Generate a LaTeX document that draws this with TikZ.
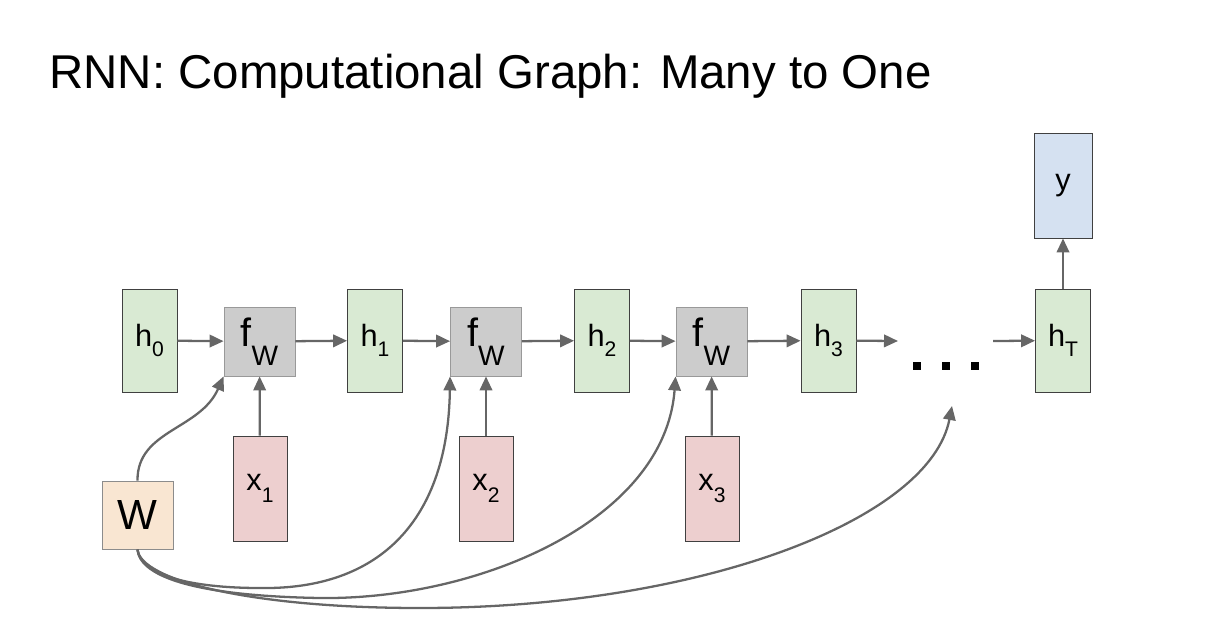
\documentclass[tikz,border=0pt]{standalone}
\usepackage{fontspec}
\setmainfont{Liberation Sans}
\usetikzlibrary{arrows.meta,positioning}

\definecolor{hgreen}{HTML}{D9EAD3}
\definecolor{fgray}{HTML}{CCCCCC}
\definecolor{xred}{HTML}{EDCFCF}
\definecolor{yblue}{HTML}{D5E1F1}
\definecolor{wtan}{HTML}{F9E6D2}
\definecolor{wire}{HTML}{666666}

% label with a lowered index, as on the slide
\newcommand{\lowidx}[3]{{\fontsize{17.5}{18}\selectfont #1}\raisebox{-#3}{\fontsize{12}{12}\selectfont #2}}
\newcommand{\fwlab}{{\fontsize{22.5}{23}\selectfont f}\raisebox{-10.8pt}{\fontsize{16}{16}\selectfont W}}

\begin{document}
\begin{tikzpicture}[
  x=0.02cm, y=-0.02cm,
  state/.style={draw=black!75, line width=0.5pt, fill=hgreen, inner sep=0pt,
                minimum width=1.1cm, minimum height=2.06cm},
  cell/.style={draw=black!40, line width=0.5pt, fill=fgray, inner sep=0pt,
               minimum width=1.42cm, minimum height=1.38cm},
  inp/.style={draw=black!75, line width=0.5pt, fill=xred, inner sep=0pt,
              minimum width=1.08cm, minimum height=2.1cm},
  outp/.style={draw=black!75, line width=0.5pt, fill=yblue, inner sep=0pt,
               minimum width=1.16cm, minimum height=2.1cm},
  wbox/.style={draw=black!45, line width=0.5pt, fill=wtan, inner sep=0pt,
               minimum width=1.42cm, minimum height=1.36cm},
  link/.style={draw=wire, line width=1.3pt,
               -{Triangle[length=0.28cm, width=0.25cm]}}]

\useasboundingbox (0,0) rectangle (1220,619);

% ================= title ==================================================
\node[anchor=base west, inner sep=0pt, font=\fontsize{27}{31}\selectfont]
  (title) at (49,88) {RNN: Computational Graph: Many to One};

% ================= chain ==================================================
\node[state] (h0) at (149.5,340.5) {\lowidx{h}{0}{6pt}};
\node[cell]  (f1) at (259.5,341.5) {\fwlab};
\node[state] (h1) at (375,340.5)   {\lowidx{h}{1}{6pt}};
\node[cell]  (f2) at (486,341.5)   {\fwlab};
\node[state] (h2) at (602,340.5)   {\lowidx{h}{2}{6pt}};
\node[cell]  (f3) at (711.5,341.5) {\fwlab};
\node[state] (h3) at (828.5,340.5) {\lowidx{h}{3}{6pt}};
\node[state] (hT) at (1063,340.5)  {\lowidx{h}{T}{6pt}};
\node[outp]  (y)  at (1063,185.5)  {\fontsize{17.5}{18}\selectfont y};

\node[inp] (x1) at (260,488.5) {\lowidx{x}{1}{7pt}};
\node[inp] (x2) at (486,488.5) {\lowidx{x}{2}{7pt}};
\node[inp] (x3) at (712,488.5) {\lowidx{x}{3}{7pt}};

\node[wbox] (W) at (137.5,515) {\fontsize{24}{26}\selectfont W};

% the dots stand for the steps in between
\foreach \x in {917,946,975}
  {\fill (\x-4,362) rectangle (\x+4,370);}
\coordinate (dotsin)  at (898,341);
\coordinate (dotsout) at (993,341);
\coordinate (dotsup)  at (952,406);

% ================= connectors =============================================
\draw[link] (h0) -- (f1);
\draw[link] (f1) -- (h1);
\draw[link] (h1) -- (f2);
\draw[link] (f2) -- (h2);
\draw[link] (h2) -- (f3);
\draw[link] (f3) -- (h3);
\draw[link] (h3) -- (dotsin);
\draw[link] (dotsout) -- (hT);
\draw[link] (hT) -- (y);
\foreach \i in {1,2,3}
  {\draw[link] (x\i) -- (f\i);}

% the shared weights feed every step
\draw[link] (W.north) .. controls (137,430) and (200,430) .. (f1.south west);
\draw[link] (W.south) .. controls (140,575) and (190,588) .. (260,588)
                      .. controls (380,590) and (448,520) .. (f2.south west);
\draw[link] (W.south) .. controls (140,578) and (200,596) .. (320,598)
                      .. controls (480,600) and (665,520) .. (f3.south west);
\draw[link] (W.south) .. controls (140,580) and (250,608) .. (420,608)
                      .. controls (700,608) and (930,520) .. (dotsup);

\end{tikzpicture}
\end{document}
